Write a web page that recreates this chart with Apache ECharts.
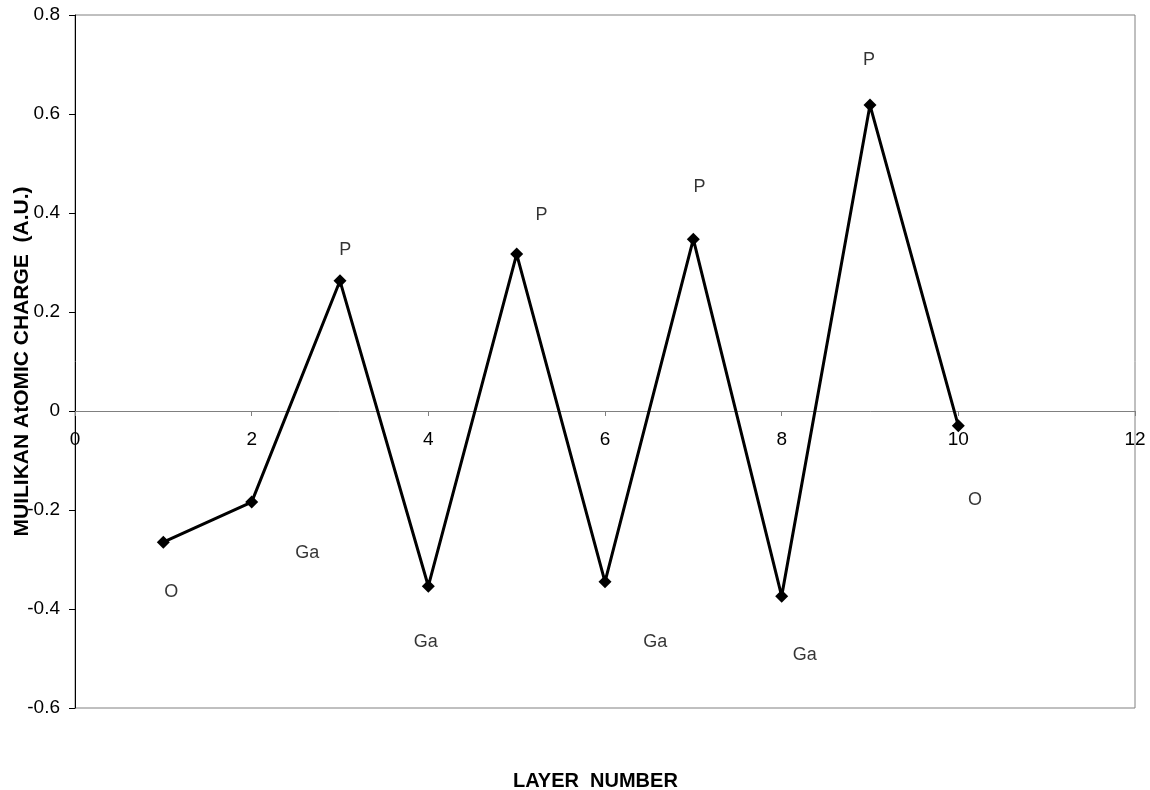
<!DOCTYPE html>
<html>
<head>
<meta charset="utf-8">
<script src="https://cdn.jsdelivr.net/npm/echarts@6/dist/echarts.min.js"></script>
<style>
  html, body { margin: 0; padding: 0; background: #fff; }
  #chart { width: 1150px; height: 790px; }
</style>
</head>
<body>
<div id="chart"></div>
<script>
// Layer number and Mulliken charge of each atomic layer
const layers = [1, 2, 3, 4, 5, 6, 7, 8, 9, 10];
const charges = [-0.265, -0.184, 0.263, -0.354, 0.317, -0.345, 0.347, -0.374, 0.618, -0.030];

// Element annotations placed beside each layer
const atomNames = ['O', 'Ga', 'P', 'Ga', 'P', 'Ga', 'P', 'Ga', 'P', 'O'];
const atomLabelX = [1.09, 2.63, 3.06, 3.97, 5.28, 6.57, 7.07, 8.26, 8.99, 10.19];
const atomLabelY = [-0.366, -0.287, 0.325, -0.467, 0.396, -0.467, 0.453, -0.493, 0.709, -0.180];

// Axis ranges
const xMin = 0, xMax = 12, xStep = 2;
const yMin = -0.6, yMax = 0.8, yStep = 0.2;

const font = 'Liberation Sans, Arial, sans-serif';

// Plot box (pixels)
const W = 1150, H = 790;
const gridLeft = 75, gridRight = 15, gridTop = 15, gridBottom = 82;
const plotH = H - gridTop - gridBottom;
// the layer axis sits on the zero line of the charge axis
const zeroLift = (0 - yMin) / (yMax - yMin) * plotH;

const chart = echarts.init(document.getElementById('chart'), null, { renderer: 'canvas' });

chart.setOption({
  animation: false,
  backgroundColor: '#ffffff',
  title: {
    text: 'LAYER  NUMBER',
    left: 508,
    top: 766,
    textStyle: { fontFamily: font, fontSize: 20, fontWeight: 'bold', color: '#000' }
  },
  grid: {
    left: gridLeft, right: gridRight, top: gridTop, bottom: gridBottom,
    containLabel: false,
    outerBoundsMode: 'none',
    show: true, borderColor: '#808080', borderWidth: 1, backgroundColor: 'transparent'
  },
  xAxis: {
    type: 'value',
    position: 'bottom',
    offset: -zeroLift,
    min: xMin, max: xMax, interval: xStep,
    axisLine: { onZero: false, lineStyle: { color: '#808080', width: 1 } },
    axisTick: { show: true, length: 5, lineStyle: { color: '#808080' } },
    axisLabel: { fontFamily: font, fontSize: 19, color: '#000', margin: 19, hideOverlap: false },
    splitLine: { show: false }
  },
  yAxis: {
    type: 'value',
    min: yMin, max: yMax, interval: yStep,
    name: 'MUILIKAN AtOMIC CHARGE  (A.U.)',
    nameLocation: 'middle',
    nameGap: 42,
    nameMoveOverlap: false,
    nameTextStyle: { fontFamily: font, fontSize: 21, fontWeight: 'bold', color: '#000' },
    axisLine: { show: true, lineStyle: { color: '#000', width: 1 } },
    axisTick: { show: true, length: 6, lineStyle: { color: '#000' } },
    axisLabel: {
      fontFamily: font, fontSize: 19, color: '#000', margin: 15,
      formatter: v => String(Math.round(v * 10) / 10)
    },
    splitLine: { show: false }
  },
  series: [
    {
      type: 'line',
      data: layers.map((x, i) => [x, charges[i]]),
      symbol: 'diamond',
      symbolSize: 13,
      showAllSymbol: true,
      lineStyle: { color: '#000', width: 3 },
      itemStyle: { color: '#000' },
      z: 3
    },
    {
      type: 'scatter',
      data: atomNames.map((n, i) => ({ name: n, value: [atomLabelX[i], atomLabelY[i]] })),
      symbolSize: 0,
      label: {
        show: true, position: 'inside', formatter: p => p.name,
        fontFamily: font, fontSize: 18, color: '#000'
      },
      silent: true,
      z: 4
    }
  ]
});
</script>
</body>
</html>
